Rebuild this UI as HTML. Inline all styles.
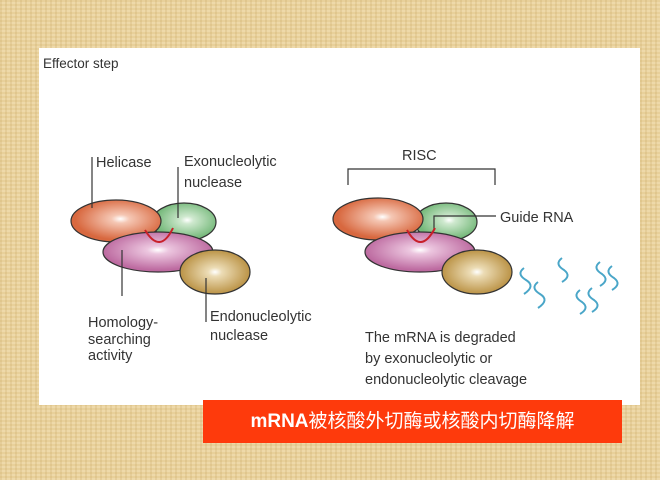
<!DOCTYPE html>
<html><head><meta charset="utf-8"><style>
html,body{margin:0;padding:0}
body{width:660px;height:480px;position:relative;overflow:hidden;
background-color:#e8d09a;
background-image:repeating-linear-gradient(90deg,rgba(190,150,80,.18) 0 2px,transparent 2px 5px),repeating-linear-gradient(0deg,rgba(255,245,215,.25) 0 2px,transparent 2px 4px);}
.panel{position:absolute;left:39px;top:48px;width:601px;height:357px;background:#fff}
svg{position:absolute;left:0;top:0}
.banner{position:absolute;left:203px;top:400px;width:419px;height:43px;background:#fe3a0c;color:#fff;
font:bold 19px "Liberation Sans","Noto Sans CJK SC",sans-serif;line-height:43px;text-align:center}
.banner span{font-weight:normal}
</style></head><body>
<div class="panel"></div>
<svg width="660" height="480" font-family="Liberation Sans, sans-serif" font-size="14.5" fill="#333">
<defs>
<radialGradient id="o" cx="0.55" cy="0.45"><stop offset="0" stop-color="#fff"/><stop offset="0.2" stop-color="#f5c7b4"/><stop offset="1" stop-color="#d8683f"/></radialGradient>
<radialGradient id="g" cx="0.55" cy="0.45"><stop offset="0" stop-color="#fff"/><stop offset="0.2" stop-color="#cfe9cf"/><stop offset="1" stop-color="#74b879"/></radialGradient>
<radialGradient id="p" cx="0.5" cy="0.45"><stop offset="0" stop-color="#fff"/><stop offset="0.2" stop-color="#ecc6df"/><stop offset="1" stop-color="#bd6aa0"/></radialGradient>
<radialGradient id="y" cx="0.5" cy="0.5"><stop offset="0" stop-color="#fff"/><stop offset="0.2" stop-color="#ecdcb5"/><stop offset="1" stop-color="#bb9346"/></radialGradient>
</defs>
<text x="43" y="68" font-size="13.5">Effector step</text>
<g stroke="#333" stroke-width="1.2">
<ellipse cx="184" cy="222" rx="32" ry="19" fill="url(#g)"/>
<ellipse cx="116" cy="221" rx="45" ry="21" fill="url(#o)"/>
<ellipse cx="158" cy="252" rx="55" ry="20" fill="url(#p)"/>
<ellipse cx="215" cy="272" rx="35" ry="22" fill="url(#y)"/>
<line x1="92" y1="157" x2="92" y2="208"/>
<line x1="178" y1="167" x2="178" y2="218"/>
<line x1="122" y1="250" x2="122" y2="296"/>
<line x1="206" y1="278" x2="206" y2="322"/>
</g>
<path d="M145 230 Q160 255 173 228" stroke="#c8202a" stroke-width="2" fill="none"/>
<text x="96" y="167">Helicase</text>
<text x="184" y="166">Exonucleolytic</text>
<text x="184" y="187">nuclease</text>
<text x="88" y="327">Homology-</text>
<text x="88" y="344">searching</text>
<text x="88" y="360">activity</text>
<text x="210" y="321">Endonucleolytic</text>
<text x="210" y="340">nuclease</text>

<g stroke="#333" stroke-width="1.2">
<ellipse cx="446" cy="222" rx="31" ry="19" fill="url(#g)"/>
<ellipse cx="378" cy="219" rx="45" ry="21" fill="url(#o)"/>
<ellipse cx="420" cy="252" rx="55" ry="20" fill="url(#p)"/>
<ellipse cx="477" cy="272" rx="35" ry="22" fill="url(#y)"/>
<path d="M348 185 V169 H495 V185" fill="none"/>
<path d="M434 230 V216 H496" fill="none"/>
</g>
<path d="M407 230 Q421 255 435 228" stroke="#c8202a" stroke-width="2" fill="none"/>
<text x="402" y="160">RISC</text>
<text x="500" y="222">Guide RNA</text>
<g stroke="#4aa6c8" stroke-width="2" fill="none">
<path d="M524 268 q-8 6 2 12 q10 6 -2 14 M538 282 q-8 6 2 12 q10 6 -2 14"/>
<path d="M562 258 q-8 6 2 12 q8 6 -2 12"/>
<path d="M600 262 q-8 6 2 12 q8 6 -2 12 M612 266 q-8 6 2 12 q8 6 -2 12"/>
<path d="M580 290 q-8 6 2 12 q8 6 -2 12 M592 288 q-8 6 2 12 q8 6 -2 12"/>
</g>
<text x="365" y="342">The mRNA is degraded</text>
<text x="365" y="363">by exonucleolytic or</text>
<text x="365" y="384">endonucleolytic cleavage</text>
</svg>
<div class="banner">mRNA<span>被核酸外切酶或核酸内切酶降解</span></div>
</body></html>
